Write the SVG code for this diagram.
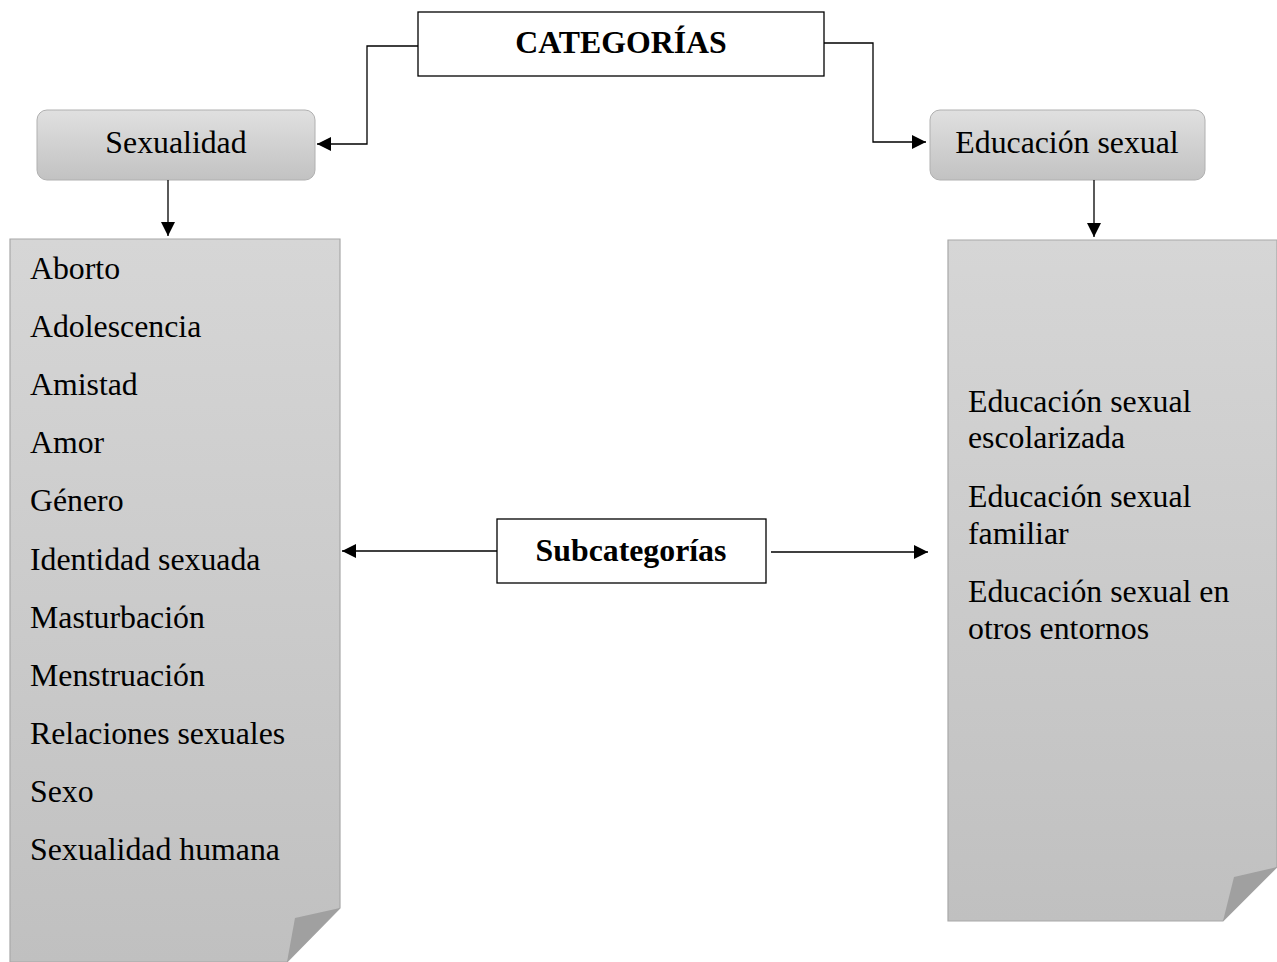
<svg xmlns="http://www.w3.org/2000/svg" width="1277" height="962" viewBox="0 0 1277 962">
<style>
text{font-family:"Liberation Serif","Times New Roman",serif;fill:#000}
.t{font-size:31.8px}
.b{font-size:31.8px;font-weight:bold}
.box{fill:#fff;stroke:#000;stroke-width:1.3}
.cat{fill:url(#gb);stroke:#b0b0b0;stroke-width:1}
.page{fill:url(#gp);stroke:#a8a8a8;stroke-width:1.2}
.fold{fill:#a0a0a0}
.ln{fill:none;stroke:#000;stroke-width:1.3}
</style>
<defs>
<linearGradient id="gb" x1="0" y1="0" x2="0" y2="1"><stop offset="0" stop-color="#e0e0e0"/><stop offset="1" stop-color="#c2c2c2"/></linearGradient>
<linearGradient id="gp" x1="0" y1="0" x2="0" y2="1"><stop offset="0" stop-color="#d6d6d6"/><stop offset="1" stop-color="#c0c0c0"/></linearGradient>
<marker id="ar" viewBox="0 0 10 10" refX="10" refY="5" markerWidth="16" markerHeight="14" markerUnits="userSpaceOnUse" orient="auto"><path d="M0,0L10,5L0,10z" fill="#000"/></marker>
</defs>
<g id="categorias"><rect class="box" x="418" y="12" width="406" height="64"/><text class="b" x="621" y="53" text-anchor="middle">CATEGORÍAS</text></g>
<g id="sexualidad"><rect class="cat" x="37" y="110" width="278" height="70" rx="10"/><text class="t" x="176" y="153" text-anchor="middle">Sexualidad</text></g>
<g id="educacion"><rect class="cat" x="930" y="110" width="275" height="70" rx="10"/><text class="t" x="1067" y="153" text-anchor="middle">Educación sexual</text></g>
<g id="lista-sexualidad">
<path class="page" d="M10,239H340V908L287,962H10Z"/>
<path class="fold" d="M340,908L295,918L287,962Z"/>
<text class="t" x="30" y="279">Aborto</text>
<text class="t" x="30" y="337">Adolescencia</text>
<text class="t" x="30" y="395">Amistad</text>
<text class="t" x="30" y="453">Amor</text>
<text class="t" x="30" y="511">Género</text>
<text class="t" x="30" y="570">Identidad sexuada</text>
<text class="t" x="30" y="628">Masturbación</text>
<text class="t" x="30" y="686">Menstruación</text>
<text class="t" x="30" y="744">Relaciones sexuales</text>
<text class="t" x="30" y="802">Sexo</text>
<text class="t" x="30" y="860">Sexualidad humana</text>
</g>
<g id="lista-educacion">
<path class="page" d="M948,240H1277V867L1223,921H948Z"/>
<path class="fold" d="M1277,867L1234,877L1223,921Z"/>
<text class="t" x="968" y="412">Educación sexual</text>
<text class="t" x="968" y="448">escolarizada</text>
<text class="t" x="968" y="507">Educación sexual</text>
<text class="t" x="968" y="544">familiar</text>
<text class="t" x="968" y="602">Educación sexual en</text>
<text class="t" x="968" y="639">otros entornos</text>
</g>
<g id="subcategorias"><rect class="box" x="497" y="519" width="269" height="64"/><text class="b" x="631" y="561" text-anchor="middle">Subcategorías</text></g>
<g id="connectors">
<path class="ln" d="M418,46H367V144H317" marker-end="url(#ar)"/>
<path class="ln" d="M824,43H873V142H926" marker-end="url(#ar)"/>
<path class="ln" d="M168,180V236" marker-end="url(#ar)"/>
<path class="ln" d="M1094,180V237" marker-end="url(#ar)"/>
<path class="ln" d="M497,551H342" marker-end="url(#ar)"/>
<path class="ln" d="M771,552H928" marker-end="url(#ar)"/>
</g>
</svg>
